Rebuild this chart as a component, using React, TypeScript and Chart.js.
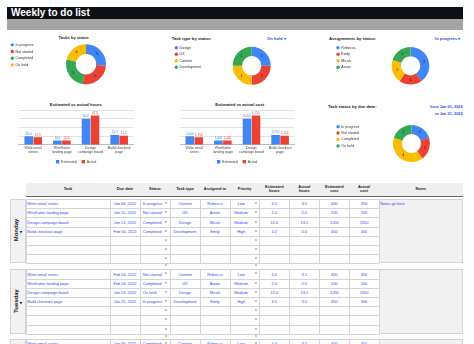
import React, { useEffect, useRef } from 'react';
import { Chart, registerables } from 'chart.js';

Chart.register(...registerables);

const FONT = '"Liberation Sans", Arial, Helvetica, sans-serif';
Chart.defaults.font.family = FONT;

const BLUE = '#4285f4';
const RED = '#ea4335';
const YELLOW = '#fbbc04';
const GREEN = '#34a853';
const LINK = '#3546f0';

// ---------- chart data ----------
const statusLabels = ['In progress', 'Not started', 'Completed', 'On hold'];
const statusCounts = [5, 5, 5, 4];
const taskTypeLabels = ['Design', 'UX', 'Content', 'Development'];
const taskTypeOnHoldCounts = [1, 1, 1, 1];
const assigneeLabels = ['Rebecca', 'Emily', 'Micah', 'Aaron'];
const assigneeInProgressCounts = [2, 1, 1, 1];
const dueStatusLabels = ['In progress', 'Not started', 'Completed', 'On hold'];
const dueStatusCounts = [2, 2, 4, 2];

const barCategories = [
  ['Write email', 'series'],
  ['Wireframe', 'landing page'],
  ['Design', 'campaign board'],
  ['Build checkout', 'page'],
];
const estimatedHours = [20, 10, 60, 22.5];
const actualHours = [17.5, 10, 67.5, 21];
const estimatedCost = [2000, 1000, 6000, 2250];
const actualCost = [1750, 1000, 6750, 2100];

// ---------- table data ----------
const headerLabels = ['Task', 'Due date', 'Status', 'Task type', 'Assigned to', 'Priority', 'Estimated\nhours', 'Actual\nhours', 'Estimated\ncost', 'Actual\ncost', 'Notes'];
const dayNames = ['Monday', 'Tuesday', 'Wednesday'];
const taskNames = ['Write email series', 'Wireframe landing page', 'Design campaign board', 'Build checkout page'];
const taskTypes = ['Content', 'UX', 'Design', 'Development'];
const assignees = ['Rebecca', 'Aaron', 'Micah', 'Emily'];
const priorities = ['Low', 'Medium', 'Medium', 'High'];

const mondayDue = ['Jan 06, 2022', 'Jan 10, 2022', 'Jan 13, 2022', 'Feb 04, 2022'];
const mondayStatus = ['In progress', 'Not started', 'Completed', 'Completed'];
const mondayEstHours = [4.0, 2.0, 12.0, 4.5];
const mondayActHours = [3.5, 2.0, 13.5, 4.0];
const mondayEstCost = [400, 200, 1200, 450];
const mondayActCost = [350, 200, 1350, 400];

const tuesdayDue = ['Feb 04, 2022', 'Feb 04, 2022', 'Jan 23, 2022', 'Jan 25, 2022'];
const tuesdayStatus = ['Not started', 'Completed', 'On hold', 'In progress'];
const tuesdayEstHours = [4.0, 2.0, 12.0, 4.5];
const tuesdayActHours = [3.5, 2.0, 13.5, 3.0];
const tuesdayEstCost = [400, 200, 1200, 450];
const tuesdayActCost = [350, 200, 1350, 300];

const wednesdayDue = ['Jan 06, 2022'];
const wednesdayStatus = ['Completed'];
const wednesdayEstHours = [4.0];
const wednesdayActHours = [3.5];
const wednesdayEstCost = [400];
const wednesdayActCost = [350];

const notesText = 'Notes go here';

// ---------- plugins ----------
const sliceValuePlugin = {
  id: 'sliceValues',
  afterDatasetsDraw(chart: any, _args: any, opts: any) {
    const ctx = chart.ctx;
    const meta = chart.getDatasetMeta(0);
    const data = chart.data.datasets[0].data;
    ctx.save();
    ctx.font = `${opts.size || 4}px ${FONT}`;
    ctx.fillStyle = '#222';
    ctx.textAlign = 'center';
    ctx.textBaseline = 'middle';
    meta.data.forEach((el: any, i: number) => {
      const p = el.tooltipPosition();
      ctx.fillText(String(data[i]), p.x, p.y);
    });
    ctx.restore();
  },
};

const barValuePlugin = {
  id: 'barValues',
  afterDatasetsDraw(chart: any, _args: any, opts: any) {
    const ctx = chart.ctx;
    ctx.save();
    ctx.font = `${opts.size || 3}px ${FONT}`;
    ctx.textAlign = 'center';
    ctx.textBaseline = 'bottom';
    chart.data.datasets.forEach((ds: any, i: number) => {
      const meta = chart.getDatasetMeta(i);
      ctx.fillStyle = ds.backgroundColor;
      meta.data.forEach((el: any, j: number) => {
        ctx.fillText(opts.format(ds.data[j]), el.x, el.y - 1);
      });
    });
    ctx.restore();
  },
};

type Area = { l: number; t: number; r: number; b: number };

function DoughnutChart(props: { labels: string[]; values: number[]; colors: string[]; area: Area; radius: number; legendPad: number }) {
  const ref = useRef<HTMLCanvasElement>(null);
  const { area } = props;
  const L = Math.floor(area.l), T = Math.floor(area.t), R = Math.ceil(area.r), B = Math.ceil(area.b);
  useEffect(() => {
    const chart = new Chart(ref.current as HTMLCanvasElement, {
      type: 'doughnut',
      data: {
        labels: props.labels,
        datasets: [{ data: props.values, backgroundColor: props.colors, borderWidth: 0 }],
      },
      options: {
        animation: false,
        responsive: false,
        events: [],
        radius: props.radius,
        cutout: '51%',
        layout: { padding: { left: area.l - L, top: area.t - T, right: R - area.r, bottom: B - area.b } },
        plugins: {
          legend: {
            position: 'chartArea',
            align: 'start',
            labels: {
              font: { size: 3.6, family: FONT },
              color: '#333',
              usePointStyle: true,
              pointStyle: 'circle',
              boxWidth: 3,
              boxHeight: 2.4,
              padding: props.legendPad,
            },
          },
          title: { display: false },
          tooltip: { enabled: false },
          sliceValues: { size: 4 },
        },
      } as any,
      plugins: [sliceValuePlugin],
    });
    return () => chart.destroy();
  }, []);
  return <canvas ref={ref} width={R - L} height={B - T} style={{ position: 'absolute', left: L, top: T, width: R - L, height: B - T }} />;
}

function BarChart(props: { est: number[]; act: number[]; max: number; step: number; fmt: (v: number) => string; left: number; top: number; width: number; height: number; pad: any }) {
  const ref = useRef<HTMLCanvasElement>(null);
  useEffect(() => {
    const chart = new Chart(ref.current as HTMLCanvasElement, {
      type: 'bar',
      data: {
        labels: barCategories as any,
        datasets: [
          { label: 'Estimated', data: props.est, backgroundColor: BLUE, categoryPercentage: 0.63, barPercentage: 0.95 },
          { label: 'Actual', data: props.act, backgroundColor: RED, categoryPercentage: 0.63, barPercentage: 0.95 },
        ],
      },
      options: {
        animation: false,
        responsive: false,
        events: [],
        layout: { padding: props.pad },
        scales: {
          x: {
            grid: { display: false, drawTicks: false },
            border: { display: true, color: '#bdbdbd' },
            ticks: { font: { size: 3.5, family: FONT, lineHeight: 1.15 }, color: '#444', padding: 1, maxRotation: 0, autoSkip: false },
          },
          y: {
            min: 0,
            max: props.max,
            ticks: { display: false, stepSize: props.step },
            grid: { color: '#e3e3e3', drawTicks: false },
            border: { display: false },
          },
        },
        plugins: {
          legend: {
            position: 'bottom',
            labels: { font: { size: 3.5, family: FONT }, color: '#444', boxWidth: 3.3, boxHeight: 3.3, padding: 5 },
          },
          tooltip: { enabled: false },
          barValues: { size: 3, format: props.fmt },
        },
      } as any,
      plugins: [barValuePlugin],
    });
    return () => chart.destroy();
  }, []);
  return <canvas ref={ref} width={props.width} height={props.height} style={{ position: 'absolute', left: props.left, top: props.top, width: props.width, height: props.height }} />;
}

function Txt(props: { x: number; y: number; children: any; size?: number; bold?: boolean; color?: string; align?: 'left' | 'right' | 'center' }) {
  const size = props.size || 4;
  const style: any = {
    position: 'absolute',
    top: props.y - size,
    height: size * 2,
    lineHeight: `${size * 2}px`,
    fontSize: size,
    fontWeight: props.bold ? 700 : 400,
    color: props.color || '#222',
    fontFamily: FONT,
    whiteSpace: 'nowrap',
  };
  const a = props.align || 'left';
  if (a === 'left') style.left = props.x;
  else if (a === 'right') style.right = 474 - props.x;
  else { style.left = props.x; style.transform = 'translateX(-50%)'; }
  return <div style={style}>{props.children}</div>;
}

// ---------- table layout ----------
const colX = [26, 110, 140, 170, 200, 230, 259.3, 289.3, 319.3, 349.3, 378.7, 463];
const ROW_H = 9.2;
const ROWS = 7;
const blockTops = [199, 269.3, 338.7];
const GRID = '#d4d4d4';
const CELL_FONT = 3.9;

function Arrow(props: { x: number; y: number; size?: number; color?: string }) {
  return (
    <div style={{ position: 'absolute', left: props.x - 2, top: props.y - 2, width: 4, height: 4, lineHeight: '4px', textAlign: 'center', fontSize: props.size || 2.4, color: props.color || '#666', fontFamily: 'DejaVu Sans' }}>▼</div>
  );
}

function Block(props: { top: number; day: string; due: string[]; status: string[]; eh: number[]; ah: number[]; ec: number[]; ac: number[]; notes?: string }) {
  const { top } = props;
  const h = ROW_H * ROWS;
  const items: any[] = [];
  // backgrounds
  items.push(<div key="daybg" style={{ position: 'absolute', left: 10, top, width: 16, height: h, background: '#f3f3f3', boxSizing: 'border-box', border: `1px solid ${GRID}` }} />);
  items.push(<div key="notesbg" style={{ position: 'absolute', left: colX[10], top, width: colX[11] - colX[10], height: h, background: '#f1f1f1', boxSizing: 'border-box', border: `1px solid ${GRID}` }} />);
  // grid lines
  for (let r = 0; r <= ROWS; r++) {
    items.push(<div key={'h' + r} style={{ position: 'absolute', left: colX[0], top: top + r * ROW_H, width: colX[10] - colX[0], height: 1, background: GRID }} />);
  }
  for (let c = 0; c <= 10; c++) {
    items.push(<div key={'v' + c} style={{ position: 'absolute', left: colX[c], top, width: 1, height: h, background: GRID }} />);
  }
  // day label
  const cy = top + h / 2;
  items.push(
    <div key="day" style={{ position: 'absolute', left: 15.5, top: cy - 1, transform: 'translate(-50%,-50%) rotate(-90deg)', fontSize: 6, fontWeight: 700, fontFamily: FONT, color: '#111', whiteSpace: 'nowrap', lineHeight: '6px' }}>{props.day}</div>
  );
  items.push(<Arrow key="dayarrow" x={20.8} y={cy + 1} size={3} color="#111" />);
  // cells
  for (let r = 0; r < ROWS; r++) {
    const y = top + r * ROW_H + ROW_H / 2 + 0.5;
    const has = r < props.status.length;
    const cell = (c: number, text: string, align: 'left' | 'center', padL = 0, padR = 0) => {
      if (!text) return;
      const x0 = colX[c] + padL, x1 = colX[c + 1] - padR;
      items.push(
        <Txt key={`c${r}_${c}`} x={align === 'left' ? x0 : (x0 + x1) / 2} y={y} size={CELL_FONT} color={LINK} align={align}>{text}</Txt>
      );
    };
    if (has) {
      cell(0, taskNames[r], 'left', 1.3);
      cell(1, props.due[r], 'center');
      cell(2, props.status[r], 'left', 2.7);
      cell(3, taskTypes[r], 'center');
      cell(4, assignees[r], 'center');
      cell(5, priorities[r], 'center', 0, 7);
      cell(6, props.eh[r].toFixed(1), 'center');
      cell(7, props.ah[r].toFixed(1), 'center');
      cell(8, String(props.ec[r]), 'center');
      cell(9, String(props.ac[r]), 'center');
    }
    items.push(<Arrow key={`a2_${r}`} x={colX[3] - 4} y={y} />);
    items.push(<Arrow key={`a5_${r}`} x={colX[6] - 3.5} y={y} />);
  }
  if (props.notes) {
    items.push(<Txt key="notes" x={colX[10] + 1.5} y={top + ROW_H / 2 + 0.5} size={CELL_FONT} color={LINK}>{props.notes}</Txt>);
  }
  // gap row markers below the block
  const gy = top + h + 2.8;
  items.push(<Arrow key="g2" x={colX[3] - 4} y={gy} />);
  items.push(<Arrow key="g5" x={colX[6] - 3.5} y={gy} />);
  return <>{items}</>;
}

export default function App() {
  return (
    <div style={{ position: 'fixed', left: 0, top: 0, width: 474, height: 344, overflow: 'hidden', background: '#fff', fontFamily: FONT }}>
      {/* title bar */}
      <div style={{ position: 'absolute', left: 7, top: 7, width: 456, height: 11.5, background: '#0d1117' }} />
      <div style={{ position: 'absolute', left: 7, top: 18.5, width: 456, height: 11.5, background: '#a4a4a4' }} />
      <Txt x={11} y={12.6} size={10} bold color="#fff">Weekly to do list</Txt>

      {/* panel titles */}
      <Txt x={73.7} y={38.4} size={4.1} bold align="center">Tasks by status</Txt>
      <Txt x={171.7} y={39} size={4.2} bold>Task type by status:</Txt>
      <Txt x={267} y={39} size={4.1} bold color={LINK}>On hold ▾</Txt>
      <Txt x={329} y={39} size={4.2} bold>Assignments by status:</Txt>
      <Txt x={435} y={39} size={4.1} bold color={LINK}>In progress ▾</Txt>
      <Txt x={75.8} y={104.7} size={4.2} bold align="center">Estimated vs actual hours</Txt>
      <Txt x={239.7} y={104.7} size={4.2} bold align="center">Estimated vs actual cost</Txt>
      <Txt x={328} y={106.8} size={4.2} bold>Task status by due date:</Txt>
      <Txt x={462.7} y={107} size={3.9} bold color={LINK} align="right">from Jan 01, 2022</Txt>
      <Txt x={462.7} y={114.3} size={3.9} bold color={LINK} align="right">to Jan 31, 2022</Txt>

      <DoughnutChart labels={statusLabels} values={statusCounts} colors={[BLUE, RED, GREEN, YELLOW]} area={{ l: 7.7, t: 40.8, r: 164.3, b: 87.6 }} radius={20} legendPad={3.07} />
      <DoughnutChart labels={taskTypeLabels} values={taskTypeOnHoldCounts} colors={[BLUE, RED, YELLOW, GREEN]} area={{ l: 171.9, t: 43.6, r: 331.5, b: 88 }} radius={19} legendPad={2.9} />
      <DoughnutChart labels={assigneeLabels} values={assigneeInProgressCounts} colors={[BLUE, RED, YELLOW, GREEN]} area={{ l: 333.6, t: 43.6, r: 487.4, b: 88 }} radius={18.8} legendPad={2.9} />
      <DoughnutChart labels={dueStatusLabels} values={dueStatusCounts} colors={[BLUE, RED, YELLOW, GREEN]} area={{ l: 333.7, t: 122.1, r: 489.3, b: 164.9 }} radius={18.5} legendPad={2.83} />

      <BarChart est={estimatedHours} act={actualHours} max={80} step={20} fmt={(v) => v.toFixed(1)} left={8} top={108} width={136} height={66} pad={{ left: 10.9, right: 10.5, top: 2, bottom: 0.5 }} />
      <BarChart est={estimatedCost} act={actualCost} max={8000} step={2000} fmt={(v) => v.toLocaleString('en-US')} left={170} top={108} width={136} height={66} pad={{ left: 10, right: 11.6, top: 2, bottom: 0.5 }} />

      {/* table header */}
      <div style={{ position: 'absolute', left: colX[0], top: 183.3, width: colX[11] - colX[0], height: 12.4, background: '#efefef' }} />
      <div style={{ position: 'absolute', left: colX[0], top: 195.7, width: colX[11] - colX[0], height: 1.6, background: '#666' }} />
      {headerLabels.map((lab, i) => (
        <div key={'hd' + i} style={{ position: 'absolute', left: colX[i], top: 183.3, width: colX[i + 1] - colX[i], height: 12.4, display: 'flex', alignItems: 'center', justifyContent: 'center', textAlign: 'center', whiteSpace: 'pre', fontSize: 3.9, lineHeight: '4.4px', fontWeight: 700, color: '#222', fontFamily: FONT }}>{lab}</div>
      ))}

      <Block top={blockTops[0]} day={dayNames[0]} due={mondayDue} status={mondayStatus} eh={mondayEstHours} ah={mondayActHours} ec={mondayEstCost} ac={mondayActCost} notes={notesText} />
      <Block top={blockTops[1]} day={dayNames[1]} due={tuesdayDue} status={tuesdayStatus} eh={tuesdayEstHours} ah={tuesdayActHours} ec={tuesdayEstCost} ac={tuesdayActCost} />
      <Block top={blockTops[2]} day={dayNames[2]} due={wednesdayDue} status={wednesdayStatus} eh={wednesdayEstHours} ah={wednesdayActHours} ec={wednesdayEstCost} ac={wednesdayActCost} />
    </div>
  );
}
